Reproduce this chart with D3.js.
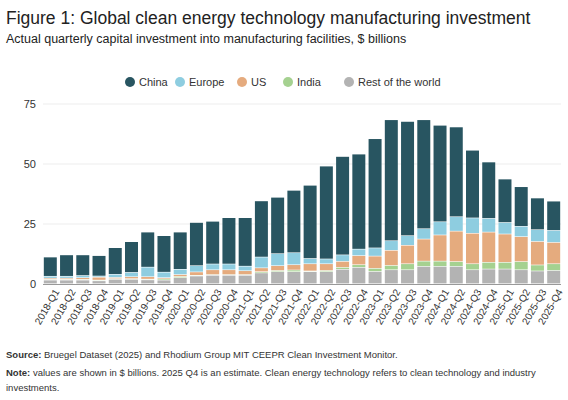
<!DOCTYPE html>
<html><head><meta charset="utf-8">
<script src="https://cdn.jsdelivr.net/npm/d3@7"></script>
<style>body{margin:0;background:#fff;font-family:"Liberation Sans",Arial,sans-serif}</style>
</head><body><svg id="c" width="568" height="400"></svg>
<script>
var quarters = [];
for (var y = 2018; y <= 2025; y++) for (var q = 1; q <= 4; q++) quarters.push(y + '-Q' + q);
var restOfWorld = [1.5,1.5,1.5,1.2,1.8,1.8,1.6,1.5,2.5,3.2,3.5,3.5,3.5,4.5,5,5,5,5,6,6.8,5.1,5.8,5.8,7.2,7.2,7.2,5.8,6.1,6.1,5.8,5.3,5.5];
var india = [0.3,0.3,0.3,0.3,0.3,0.3,0.3,0.5,0.5,0.3,0.3,0.3,0.3,0.5,0.5,0.7,0.3,0.5,0.8,1.1,1.3,1.8,2.5,2.2,2.2,2,2.5,2.8,2.8,3.4,2.5,2.8];
var us = [0.5,0.5,0.7,1.2,0.5,0.8,1,0.5,0.8,1.4,2,2,1.6,1.6,2,2.2,3,2.8,2.5,3.8,5.1,6.3,7.7,9.2,10.9,12.7,12.7,12.6,11.8,10.4,9.8,8.9];
var europe = [0.8,0.8,0.9,0.5,1.3,1.8,4,2.3,2.2,2.6,2.4,2.4,1.9,4.5,5,5,2.2,2,2.7,2.7,3.4,4,4,4.3,5.5,6,6.4,5.7,4.8,4.3,4.9,5];
var china = [8,8.9,8.6,8.5,11.1,12.8,14.6,15.2,15.5,18,17.8,19.3,20.2,23.4,23.5,26,30.5,38.7,41,39.6,45.5,50.4,47.6,45.4,40.2,37.4,28.2,23.5,18.1,16.5,13.2,12.2];
var seriesNames = ['Rest of the world','India','US','Europe','China'];
var seriesValues = [restOfWorld, india, us, europe, china];
var colors = {'China':'#285561','Europe':'#8ecde0','US':'#e5ab7e','India':'#a5d190','Rest of the world':'#b3b3b3'};
var yTicks = [0,25,50,75];

var svg = d3.select('#c');
var rows = quarters.map(function (d, i) {
    var r = {q: d};
    seriesNames.forEach(function (s, k) { r[s] = seriesValues[k][i]; });
    return r;
});
var stack = d3.stack().keys(seriesNames)(rows);

var x = d3.scaleBand().domain(quarters).range([43, 561]).paddingInner(0.2).paddingOuter(0.05);
var yS = d3.scaleLinear().domain([0, 75]).range([284, 104]);

svg.append('text').attr('x', 6).attr('y', 24).attr('font-size', 17.5).attr('fill', '#222').text('Figure 1: Global clean energy technology manufacturing investment');
svg.append('text').attr('x', 6).attr('y', 43).attr('font-size', 12.5).attr('fill', '#222').text('Actual quarterly capital investment into manufacturing facilities, $ billions');

svg.append('g').selectAll('line').data(yTicks.slice(1)).join('line')
    .attr('x1', 43).attr('x2', 561).attr('y1', yS).attr('y2', yS)
    .attr('stroke', '#eeeeee').attr('stroke-width', 1.2);
svg.append('g').selectAll('text').data(yTicks).join('text')
    .attr('x', 36).attr('y', function (d) { return yS(d) + 4; }).attr('text-anchor', 'end')
    .attr('font-size', 11).attr('fill', '#333').text(function (d) { return d; });

svg.append('g').selectAll('g').data(stack).join('g')
    .attr('fill', function (d) { return colors[d.key]; })
    .selectAll('rect').data(function (d) { return d; }).join('rect')
    .attr('x', function (d) { return x(d.data.q); })
    .attr('width', x.bandwidth())
    .attr('y', function (d) { return yS(d[1]); })
    .attr('height', function (d) { return Math.max(0, yS(d[0]) - yS(d[1]) - 0.6); });

svg.append('line').attr('x1', 43).attr('x2', 561).attr('y1', 284.5).attr('y2', 284.5).attr('stroke', '#999');

var xa = svg.append('g').attr('transform', 'translate(0,284)')
    .call(d3.axisBottom(x).tickSize(0).tickPadding(6));
xa.select('.domain').remove();
xa.selectAll('text').attr('font-size', 10).attr('fill', '#333').attr('font-family', '"Liberation Sans",Arial,sans-serif')
    .attr('text-anchor', 'end').attr('dx', '-0.2em').attr('dy', '0.6em').attr('transform', 'rotate(-60)');

var legendOrder = ['China','Europe','US','India','Rest of the world'];
var lx = [130, 180, 242, 288, 349];
var lg = svg.append('g').selectAll('g').data(legendOrder).join('g')
    .attr('transform', function (d, i) { return 'translate(' + lx[i] + ',82)'; });
lg.append('circle').attr('r', 5).attr('fill', function (d) { return colors[d]; });
lg.append('text').attr('x', 9).attr('y', 4).attr('font-size', 11).attr('fill', '#333').text(function (d) { return d; });

var foot = svg.append('g').attr('font-size', 9.5).attr('fill', '#333');
foot.append('text').attr('x', 6).attr('y', 358).html('<tspan font-weight="bold">Source:</tspan> Bruegel Dataset (2025) and Rhodium Group MIT CEEPR Clean Investment Monitor.');
foot.append('text').attr('x', 6).attr('y', 376).html('<tspan font-weight="bold">Note:</tspan> values are shown in $ billions. 2025 Q4 is an estimate. Clean energy technology refers to clean technology and industry');
foot.append('text').attr('x', 6).attr('y', 391).text('investments.');
</script></body></html>
